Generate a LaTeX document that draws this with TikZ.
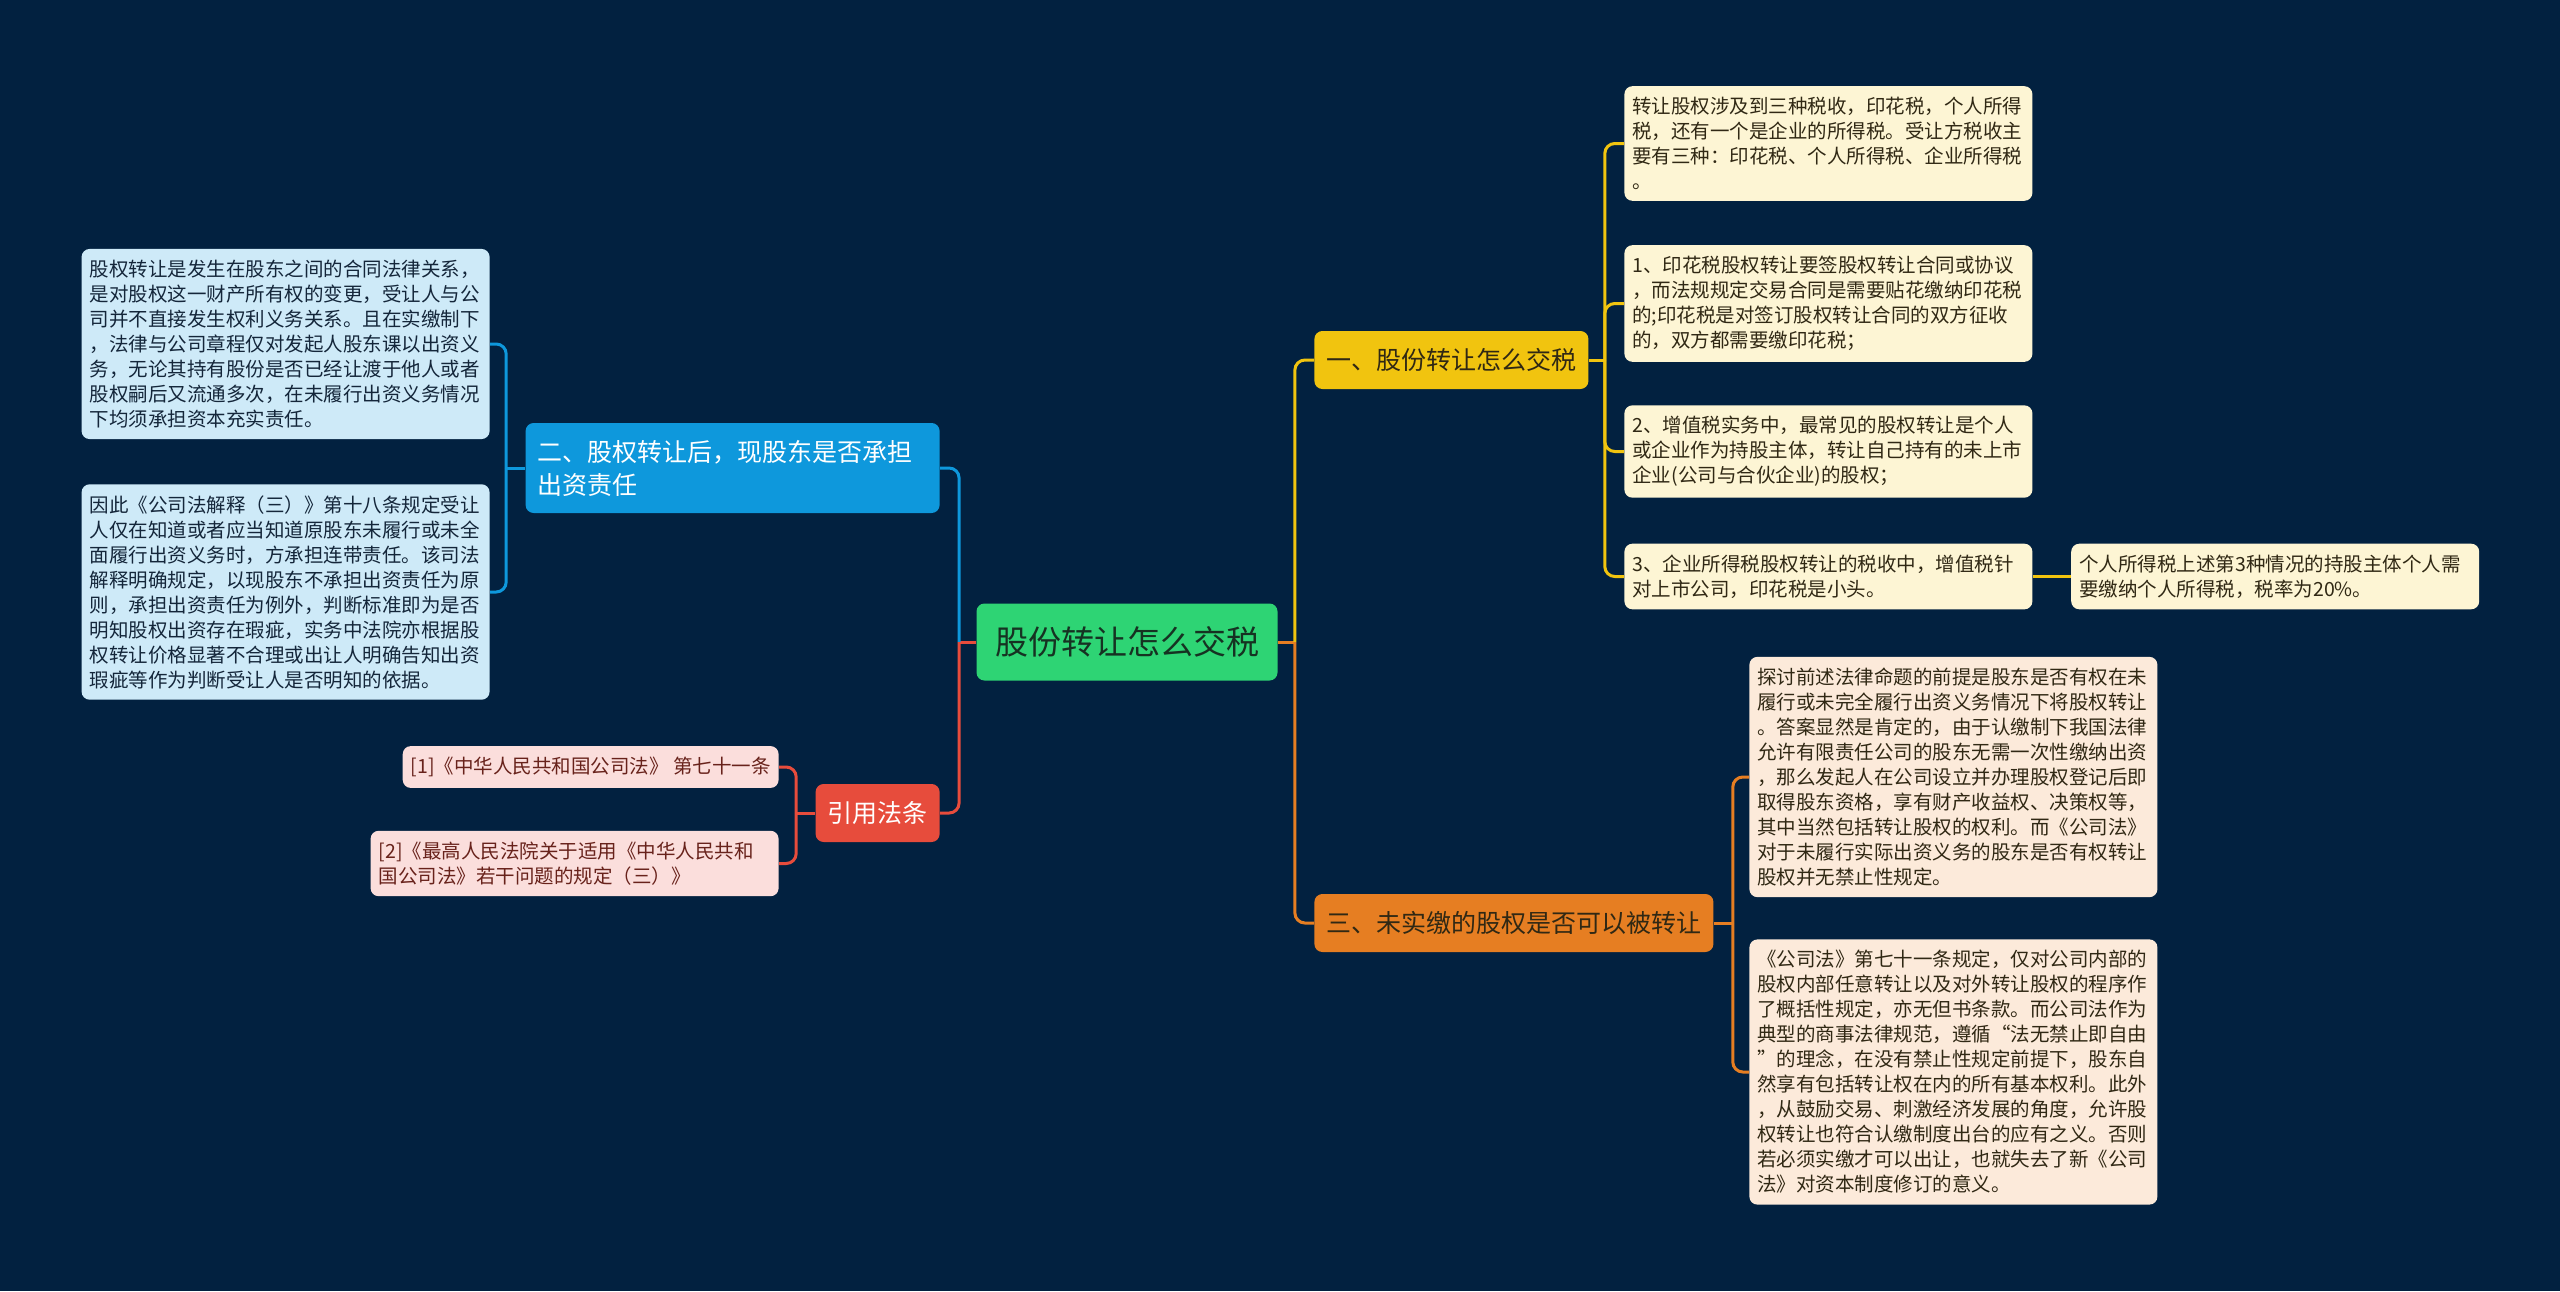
\documentclass[tikz,border=0pt]{standalone}
\usepackage{fontspec}
\setmainfont{Noto Sans CJK SC}
\usetikzlibrary{positioning,calc}
\definecolor{bg}{RGB}{2,33,64}
\definecolor{rootfill}{RGB}{46,212,116}
\definecolor{roottext}{RGB}{22,50,34}
\definecolor{yel}{RGB}{241,196,15}
\definecolor{yelleaf}{RGB}{253,245,212}
\definecolor{org}{RGB}{230,126,34}
\definecolor{orgleaf}{RGB}{252,234,218}
\definecolor{blu}{RGB}{14,152,220}
\definecolor{bluleaf}{RGB}{206,234,248}
\definecolor{rd}{RGB}{231,76,60}
\definecolor{rdleaf}{RGB}{251,222,220}
\definecolor{darktext}{RGB}{48,40,20}
\definecolor{blutext}{RGB}{20,38,58}
\tikzset{
    root/.style={rectangle,rounded corners=4pt,fill=rootfill,text=roottext,font=\fontsize{16.5}{20}\selectfont,minimum width=150.5pt,minimum height=38.5pt,inner sep=0pt},
    topic/.style={rectangle,rounded corners=4pt,font=\fontsize{12.5}{16.5}\selectfont,inner xsep=6pt,inner ysep=0pt,minimum height=29pt},
    leaf/.style={rectangle,rounded corners=4pt,font=\fontsize{9.75}{12.5}\selectfont,inner xsep=4pt,inner ysep=5.5pt},
    para/.style={text width=196pt,align=left},
    link/.style={line width=1.5pt,rounded corners=5pt}
}

\begin{document}
\begin{tikzpicture}[x=0.5pt,y=-0.5pt]

    \useasboundingbox (0,0) rectangle (2560,1291);
    \fill[bg] (0,0) rectangle (2560,1291);

    \node[root] (root) at (1127,642) {股份转让怎么交税};

    % main topics
    \node[topic,fill=yel,text=darktext,anchor=west]    (tax)    at (1314,360) {一、股份转让怎么交税};
    \node[topic,fill=org,text=darktext,anchor=west]    (unpaid) at (1314,923) {三、未实缴的股权是否可以被转让};
    \node[topic,fill=blu,text=white,anchor=east,text width=195pt,align=left,minimum height=45pt] (duty) at (940,468)
        {二、股权转让后，现股东是否承担\\出资责任};
    \node[topic,fill=rd,text=white,anchor=east]        (cite)   at (940,813) {引用法条};

    % yellow leaves
    \node[leaf,para,fill=yelleaf,text=darktext,anchor=west] (tax 1) at (1624,143.5)
        {转让股权涉及到三种税收，印花税，个人所得\\税，还有一个是企业的所得税。受让方税收主\\要有三种：印花税、个人所得税、企业所得税\\。};
    \node[leaf,para,fill=yelleaf,text=darktext,anchor=west] (tax 2) at (1624,303.5)
        {1、印花税股权转让要签股权转让合同或协议\\，而法规规定交易合同是需要贴花缴纳印花税\\的;印花税是对签订股权转让合同的双方征收\\的，双方都需要缴印花税；};
    \node[leaf,para,fill=yelleaf,text=darktext,anchor=west] (tax 3) at (1624,451.5)
        {2、增值税实务中，最常见的股权转让是个人\\或企业作为持股主体，转让自己持有的未上市\\企业(公司与合伙企业)的股权；};
    \node[leaf,para,fill=yelleaf,text=darktext,anchor=west] (tax 4) at (1624,576.5)
        {3、企业所得税股权转让的税收中，增值税针\\对上市公司，印花税是小头。};
    \node[leaf,para,fill=yelleaf,text=darktext,right=19pt of tax 4] (tax 4a)
        {个人所得税上述第3种情况的持股主体个人需\\要缴纳个人所得税，税率为20\%。};

    % orange leaves
    \node[leaf,para,fill=orgleaf,text=darktext,anchor=west] (unpaid 1) at (1749,777)
        {探讨前述法律命题的前提是股东是否有权在未\\履行或未完全履行出资义务情况下将股权转让\\。答案显然是肯定的，由于认缴制下我国法律\\允许有限责任公司的股东无需一次性缴纳出资\\，那么发起人在公司设立并办理股权登记后即\\取得股东资格，享有财产收益权、决策权等，\\其中当然包括转让股权的权利。而《公司法》\\对于未履行实际出资义务的股东是否有权转让\\股权并无禁止性规定。};
    \node[leaf,para,fill=orgleaf,text=darktext,anchor=west] (unpaid 2) at (1749,1072)
        {《公司法》第七十一条规定，仅对公司内部的\\股权内部任意转让以及对外转让股权的程序作\\了概括性规定，亦无但书条款。而公司法作为\\典型的商事法律规范，遵循“法无禁止即自由\\”的理念，在没有禁止性规定前提下，股东自\\然享有包括转让权在内的所有基本权利。此外\\，从鼓励交易、刺激经济发展的角度，允许股\\权转让也符合认缴制度出台的应有之义。否则\\若必须实缴才可以出让，也就失去了新《公司\\法》对资本制度修订的意义。};

    % blue leaves
    \node[leaf,para,fill=bluleaf,text=blutext,anchor=east] (duty 1) at (490,344)
        {股权转让是发生在股东之间的合同法律关系，\\是对股权这一财产所有权的变更，受让人与公\\司并不直接发生权利义务关系。且在实缴制下\\，法律与公司章程仅对发起人股东课以出资义\\务，无论其持有股份是否已经让渡于他人或者\\股权嗣后又流通多次，在未履行出资义务情况\\下均须承担资本充实责任。};
    \node[leaf,para,fill=bluleaf,text=blutext,anchor=east] (duty 2) at (490,592)
        {因此《公司法解释（三）》第十八条规定受让\\人仅在知道或者应当知道原股东未履行或未全\\面履行出资义务时，方承担连带责任。该司法\\解释明确规定，以现股东不承担出资责任为原\\则，承担出资责任为例外，判断标准即为是否\\明知股权出资存在瑕疵，实务中法院亦根据股\\权转让价格显著不合理或出让人明确告知出资\\瑕疵等作为判断受让人是否明知的依据。};

    % red leaves
    \node[leaf,fill=rdleaf,text=rd!45!black,anchor=east] (cite 1) at (779,767)
        {[1]《中华人民共和国公司法》 第七十一条};
    \node[leaf,para,fill=rdleaf,text=rd!45!black,anchor=east] (cite 2) at (779,863.5)
        {[2]《最高人民法院关于适用《中华人民共和\\国公司法》若干问题的规定（三）》};

    % spines
    \coordinate (root r)   at ($(root.east)+(17,0)$);
    \coordinate (root l)   at ($(root.west)+(-17,0)$);
    \coordinate (tax r)    at ($(tax.east)+(16,0)$);
    \coordinate (unpaid r) at ($(unpaid.east)+(19,0)$);
    \coordinate (duty l)   at ($(duty.west)+(-19,0)$);
    \coordinate (cite l)   at ($(cite.west)+(-19,0)$);

    \draw[link,org] (root.east) -- (root r);
    \draw[link,yel] (root r) |- (tax.west);
    \draw[link,org] (root r) |- (unpaid.west);
    \draw[link,rd]  (root.west) -- (root l);
    \draw[link,blu] (root l) |- (duty.east);
    \draw[link,rd]  (root l) |- (cite.east);

    \draw[link,yel] (tax.east) -- (tax r);
    \foreach \i in {1,...,4}
        \draw[link,yel] (tax r) |- (tax \i.west);
    \draw[link,yel] (tax 4.east) -- (tax 4a.west);

    \draw[link,org] (unpaid.east) -- (unpaid r);
    \draw[link,org] (unpaid r) |- (unpaid 1.west);
    \draw[link,org] (unpaid r) |- (unpaid 2.west);

    \draw[link,blu] (duty.west) -- (duty l);
    \draw[link,blu] (duty l) |- (duty 1.east);
    \draw[link,blu] (duty l) |- (duty 2.east);

    \draw[link,rd] (cite.west) -- (cite l);
    \draw[link,rd] (cite l) |- (cite 1.east);
    \draw[link,rd] (cite l) |- (cite 2.east);

\end{tikzpicture}
\end{document}
